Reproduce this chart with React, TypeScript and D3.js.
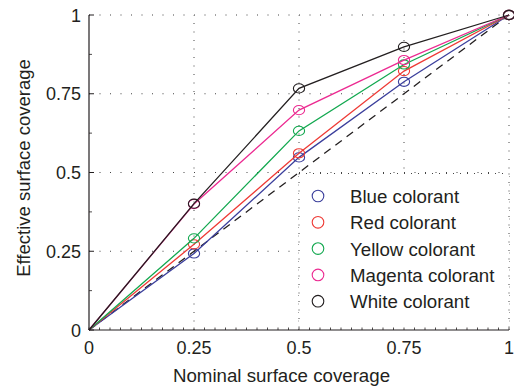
import React from "react";
import * as d3 from "d3";

const xValues = [0, 0.25, 0.5, 0.75, 1];
const blueValues = [0, 0.243, 0.548, 0.788, 1];
const redValues = [0, 0.272, 0.561, 0.822, 1];
const yellowValues = [0, 0.291, 0.632, 0.843, 1];
const magentaValues = [0, 0.4, 0.698, 0.857, 1];
const whiteValues = [0, 0.401, 0.767, 0.899, 1];
const seriesNames = ["Blue colorant", "Red colorant", "Yellow colorant", "Magenta colorant", "White colorant"];
const seriesColors = ["#3b3f9c", "#ee3a35", "#12a84f", "#ec2a91", "#231f20"];
const tickValues = [0, 0.25, 0.5, 0.75, 1];
const tickLabels = ["0", "0.25", "0.5", "0.75", "1"];

const W = 514, H = 389;
const FONT = "'Liberation Sans', Arial, Helvetica, sans-serif";

export default function App() {
  const x = d3.scaleLinear().domain([0, 1]).range([89, 509]);
  const y = d3.scaleLinear().domain([0, 1]).range([330, 15]);
  const allSeries = [blueValues, redValues, yellowValues, magentaValues, whiteValues];
  const line = d3.line<number>().x((_, i) => x(xValues[i])).y((d) => y(d));
  const diag = d3.line<number>().x((d) => x(d)).y((d) => y(d));
  const minorX = d3.range(0, 1.0001, 0.025);
  const minorY = d3.range(0.125, 1, 0.25);
  const legendX = 318;
  const legendY0 = 196;
  const legendDy = 26.3;
  const lgTop = 173.5, lgLeft = x(0.5), lgRight = x(1);
  const gridColor = "#444";
  return (
    <svg width={W} height={H} style={{ position: "absolute", left: 0, top: 0, background: "#fff" }}>
      {tickValues.filter((v) => v > 0).map((v) => (
        <line key={"gx" + v} x1={x(v)} x2={x(v)} y1={y(0)} y2={y(1)} stroke={gridColor} strokeWidth={1} strokeDasharray="1 7.5" />
      ))}
      {tickValues.filter((v) => v > 0).map((v) => (
        <line key={"gy" + v} x1={x(0)} x2={x(1)} y1={y(v)} y2={y(v)} stroke={gridColor} strokeWidth={1} strokeDasharray="1 9.5" />
      ))}
      <path d={diag([0, 1]) || ""} fill="none" stroke="#231f20" strokeWidth={1.3} strokeDasharray="8 6" />
      {allSeries.map((vals, si) => (
        <g key={"s" + si}>
          <path d={line(vals) || ""} fill="none" stroke={seriesColors[si]} strokeWidth={1.3} />
          {vals.map((v, i) =>
            i === 0 ? null : (
              <ellipse key={i} cx={x(xValues[i])} cy={y(v)} rx={5.6} ry={4.6} fill="none" stroke={seriesColors[si]} strokeWidth={1.1} />
            )
          )}
        </g>
      ))}
      <rect x={lgLeft} y={lgTop} width={lgRight - lgLeft} height={y(0) - lgTop} fill="#fff" />
      <line x1={lgLeft} x2={lgRight} y1={lgTop} y2={lgTop} stroke={gridColor} strokeDasharray="1 6" />
      <line x1={lgLeft} x2={lgLeft} y1={lgTop} y2={y(0)} stroke={gridColor} strokeDasharray="1 7.5" />
      <line x1={lgRight} x2={lgRight} y1={lgTop} y2={y(0)} stroke={gridColor} strokeDasharray="1 7.5" />
      {seriesNames.map((n, i) => (
        <g key={n}>
          <circle cx={legendX} cy={legendY0 + i * legendDy} r={5.8} fill="none" stroke={seriesColors[i]} strokeWidth={1.1} />
          <text x={350} y={legendY0 + i * legendDy + 7} fontFamily={FONT} fontSize={18.7} fill="#231f20">{n}</text>
        </g>
      ))}
      <line x1={x(0)} x2={x(1)} y1={y(0)} y2={y(0)} stroke="#231f20" strokeWidth={1.2} />
      <line x1={x(0)} x2={x(0)} y1={y(0)} y2={y(1)} stroke="#231f20" strokeWidth={1.2} />
      {minorX.map((v, i) => (
        <line key={"mx" + i} x1={x(v)} x2={x(v)} y1={y(0)} y2={y(0) - 2.5} stroke="#231f20" strokeWidth={0.8} />
      ))}
      {minorY.map((v, i) => (
        <line key={"my" + i} x1={x(0)} x2={x(0) + 3} y1={y(v)} y2={y(v)} stroke="#231f20" strokeWidth={0.8} />
      ))}
      {tickValues.map((v) => (
        <line key={"ty" + v} x1={x(0)} x2={x(0) + 5} y1={y(v)} y2={y(v)} stroke="#231f20" strokeWidth={1} />
      ))}
      {tickValues.map((v, i) => (
        <text key={"lx" + v} x={x(v)} y={y(0) + 24} textAnchor="middle" fontFamily={FONT} fontSize={18} fill="#231f20">{tickLabels[i]}</text>
      ))}
      {tickValues.map((v, i) => (
        <text key={"ly" + v} x={81} y={y(v) + 6.5} textAnchor="end" fontFamily={FONT} fontSize={18} fill="#231f20">{tickLabels[i]}</text>
      ))}
      <text x={281.5} y={381.8} textAnchor="middle" fontFamily={FONT} fontSize={18.7} fill="#231f20">Nominal surface coverage</text>
      <text transform="translate(30,168) rotate(-90)" textAnchor="middle" fontFamily={FONT} fontSize={18.5} fill="#231f20">Effective surface coverage</text>
    </svg>
  );
}
